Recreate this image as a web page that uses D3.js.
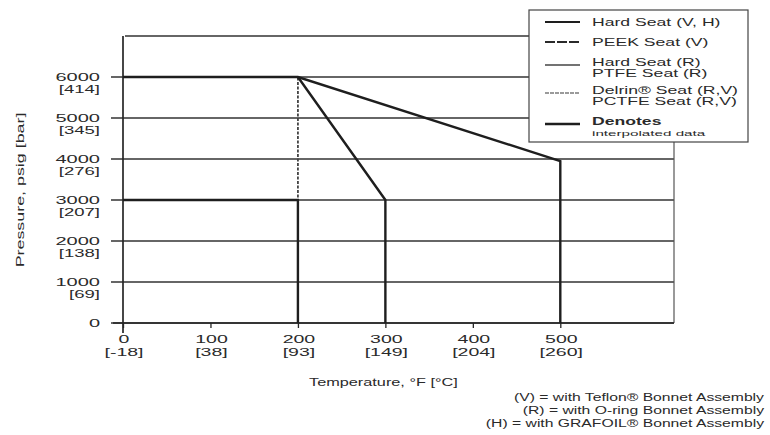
<!DOCTYPE html>
<html>
<head>
<meta charset="utf-8">
<script src="https://cdn.jsdelivr.net/npm/d3@7"></script>
<style>
  html, body { margin: 0; padding: 0; background: #fff; }
  svg { display: block; }
  text { font-family: "Liberation Sans", Arial, sans-serif; fill: #2a2a2a; }
</style>
</head>
<body>
<svg id="chart" width="770" height="435"></svg>
<script>
// ---- data ----
const tempF = [0, 100, 200, 300, 400, 500];
const tempC = ["[-18]", "[38]", "[93]", "[149]", "[204]", "[260]"];
const pressPsig = [0, 1000, 2000, 3000, 4000, 5000, 6000];
const pressBar = ["", "[69]", "[138]", "[207]", "[276]", "[345]", "[414]"];
const gridPsig = [0, 1000, 2000, 3000, 4000, 5000, 6000, 7000];

const hardSeatVH = [[0, 6000], [200, 6000], [500, 3950], [500, 0]];
const peekSeatV = [[200, 6000], [300, 3000], [300, 0]];
const hardSeatR = [[0, 6000], [200, 6000], [200, 3000]];
const ptfeSeatR = [[0, 3000], [200, 3000], [200, 0]];

const legendLabels = [
  ["Hard Seat (V, H)"],
  ["PEEK Seat (V)"],
  ["Hard Seat (R)", "PTFE Seat (R)"],
  ["Delrin\u00ae Seat (R,V)", "PCTFE Seat (R,V)"],
  ["Denotes", "interpolated data"]
];
const footnotes = [
  "(V) = with Teflon\u00ae Bonnet Assembly",
  "(R) = with O-ring Bonnet Assembly",
  "(H) = with GRAFOIL\u00ae Bonnet Assembly"
];

// ---- chart ----
const svg = d3.select("#chart");
const x = d3.scaleLinear().domain([0, 630]).range([123, 674]);
const y = d3.scaleLinear().domain([0, 7000]).range([323, 36]);

function stretch(sel, k) {
  sel.each(function () {
    const w = this.getComputedTextLength();
    if (w > 0) {
      d3.select(this).attr("textLength", w * k).attr("lengthAdjust", "spacingAndGlyphs");
    }
  });
  return sel;
}

const ink = "#262626";

// horizontal grid lines (with left tick extension)
svg.append("g").selectAll("line").data(gridPsig).join("line")
  .attr("x1", d => d === 7000 ? x(0) + 2 : 111)
  .attr("x2", x(630))
  .attr("y1", d => y(d)).attr("y2", d => y(d))
  .attr("stroke", "#333")
  .attr("stroke-width", d => (d === 6000 || d === 3000 || d === 0) ? 1.7 : 1.4);

// right border
svg.append("line")
  .attr("x1", x(630)).attr("x2", x(630))
  .attr("y1", y(7000)).attr("y2", y(0))
  .attr("stroke", "#555").attr("stroke-width", 1.2);

// y axis
const yAxis = d3.axisLeft(y).tickValues([]).tickSize(0);
svg.append("g").attr("transform", `translate(${x(0)},0)`).call(yAxis)
  .call(g => g.select(".domain").attr("stroke", ink).attr("stroke-width", 1.7)
    .attr("d", `M0,${y(7000)}V${y(0) + 10}`));

// x axis
const xAxis = d3.axisBottom(x).tickValues(tempF).tickSize(5).tickFormat("");
svg.append("g").attr("transform", `translate(0,${y(0)})`).call(xAxis)
  .call(g => g.select(".domain").attr("stroke", ink).attr("stroke-width", 1.7)
    .attr("d", `M${x(0) - 10},0H${x(630)}`))
  .call(g => g.selectAll(".tick line").attr("stroke", ink).attr("stroke-width", 1.3));

// y tick labels
const yl = svg.append("g");
pressPsig.forEach((p, i) => {
  stretch(yl.append("text").attr("x", 100).attr("y", y(p) + 4)
    .attr("text-anchor", "end").attr("font-size", 10).text(p), 2.0);
  if (pressBar[i]) {
    stretch(yl.append("text").attr("x", 100).attr("y", y(p) + 16)
      .attr("text-anchor", "end").attr("font-size", 10).text(pressBar[i]), 1.85);
  }
});

// x tick labels
const xl = svg.append("g");
tempF.forEach((t, i) => {
  stretch(xl.append("text").attr("x", x(t) + 1).attr("y", 343)
    .attr("text-anchor", "middle").attr("font-size", 10).text(t), 1.95);
  stretch(xl.append("text").attr("x", x(t) + 1).attr("y", 356)
    .attr("text-anchor", "middle").attr("font-size", 10).text(tempC[i]), 1.95);
});

// axis titles
stretch(svg.append("text").attr("x", x(300) - 2).attr("y", 386)
  .attr("text-anchor", "middle").attr("font-size", 10.5)
  .text("Temperature, \u00b0F [\u00b0C]"), 1.55);
stretch(svg.append("text")
  .attr("transform", `translate(24,${190}) rotate(-90)`)
  .attr("text-anchor", "middle").attr("font-size", 10.5)
  .text("Pressure, psig [bar]"), 1.7);

// data lines
const line = d3.line().x(d => x(d[0])).y(d => y(d[1]));
svg.append("path").datum(hardSeatR).attr("d", line)
  .attr("fill", "none").attr("stroke", "#444").attr("stroke-width", 1.8)
  .attr("stroke-dasharray", "3,1.5");
svg.append("path").datum(ptfeSeatR).attr("d", line)
  .attr("fill", "none").attr("stroke", "#1e1e1e").attr("stroke-width", 2.4);
svg.append("path").datum(peekSeatV).attr("d", line)
  .attr("fill", "none").attr("stroke", "#1e1e1e").attr("stroke-width", 2.4)
  .attr("stroke-linejoin", "miter");
svg.append("path").datum(hardSeatVH).attr("d", line)
  .attr("fill", "none").attr("stroke", "#1e1e1e").attr("stroke-width", 2.4)
  .attr("stroke-linejoin", "miter");

// legend
const lg = svg.append("g");
lg.append("rect").attr("x", 529).attr("y", 10).attr("width", 219).attr("height", 132)
  .attr("fill", "#fff").attr("stroke", "#444").attr("stroke-width", 1.2);
const legendStyles = [
  { stroke: "#1e1e1e", w: 2.2, dash: null },
  { stroke: "#2a2a2a", w: 1.9, dash: "10,2" },
  { stroke: "#444", w: 1.5, dash: null },
  { stroke: "#9a9a9a", w: 2, dash: "4,1" },
  { stroke: "#1e1e1e", w: 2.4, dash: null }
];
const legendY = [22, 42, 62, 90, 121];
legendLabels.forEach((lab, i) => {
  const yy = legendY[i];
  const st = legendStyles[i];
  lg.append("line").attr("x1", 545).attr("x2", 580)
    .attr("y1", lab.length > 1 ? yy + 3 : yy).attr("y2", lab.length > 1 ? yy + 3 : yy)
    .attr("stroke", st.stroke).attr("stroke-width", st.w).attr("stroke-dasharray", st.dash);
  lab.forEach((t, j) => {
    const small = (i === 4 && j === 1);
    stretch(lg.append("text").attr("x", 592).attr("y", yy + 4 + j * 11)
      .attr("font-size", small ? 8 : 11).attr("font-weight", (i === 4 && j === 0) ? "bold" : null)
      .text(t), small ? 1.9 : 1.6);
  });
});

// footnotes
footnotes.forEach((t, i) => {
  stretch(svg.append("text").attr("x", 764).attr("y", 401 + i * 13)
    .attr("text-anchor", "end").attr("font-size", 10).text(t), 1.57);
});
</script>
</body>
</html>
